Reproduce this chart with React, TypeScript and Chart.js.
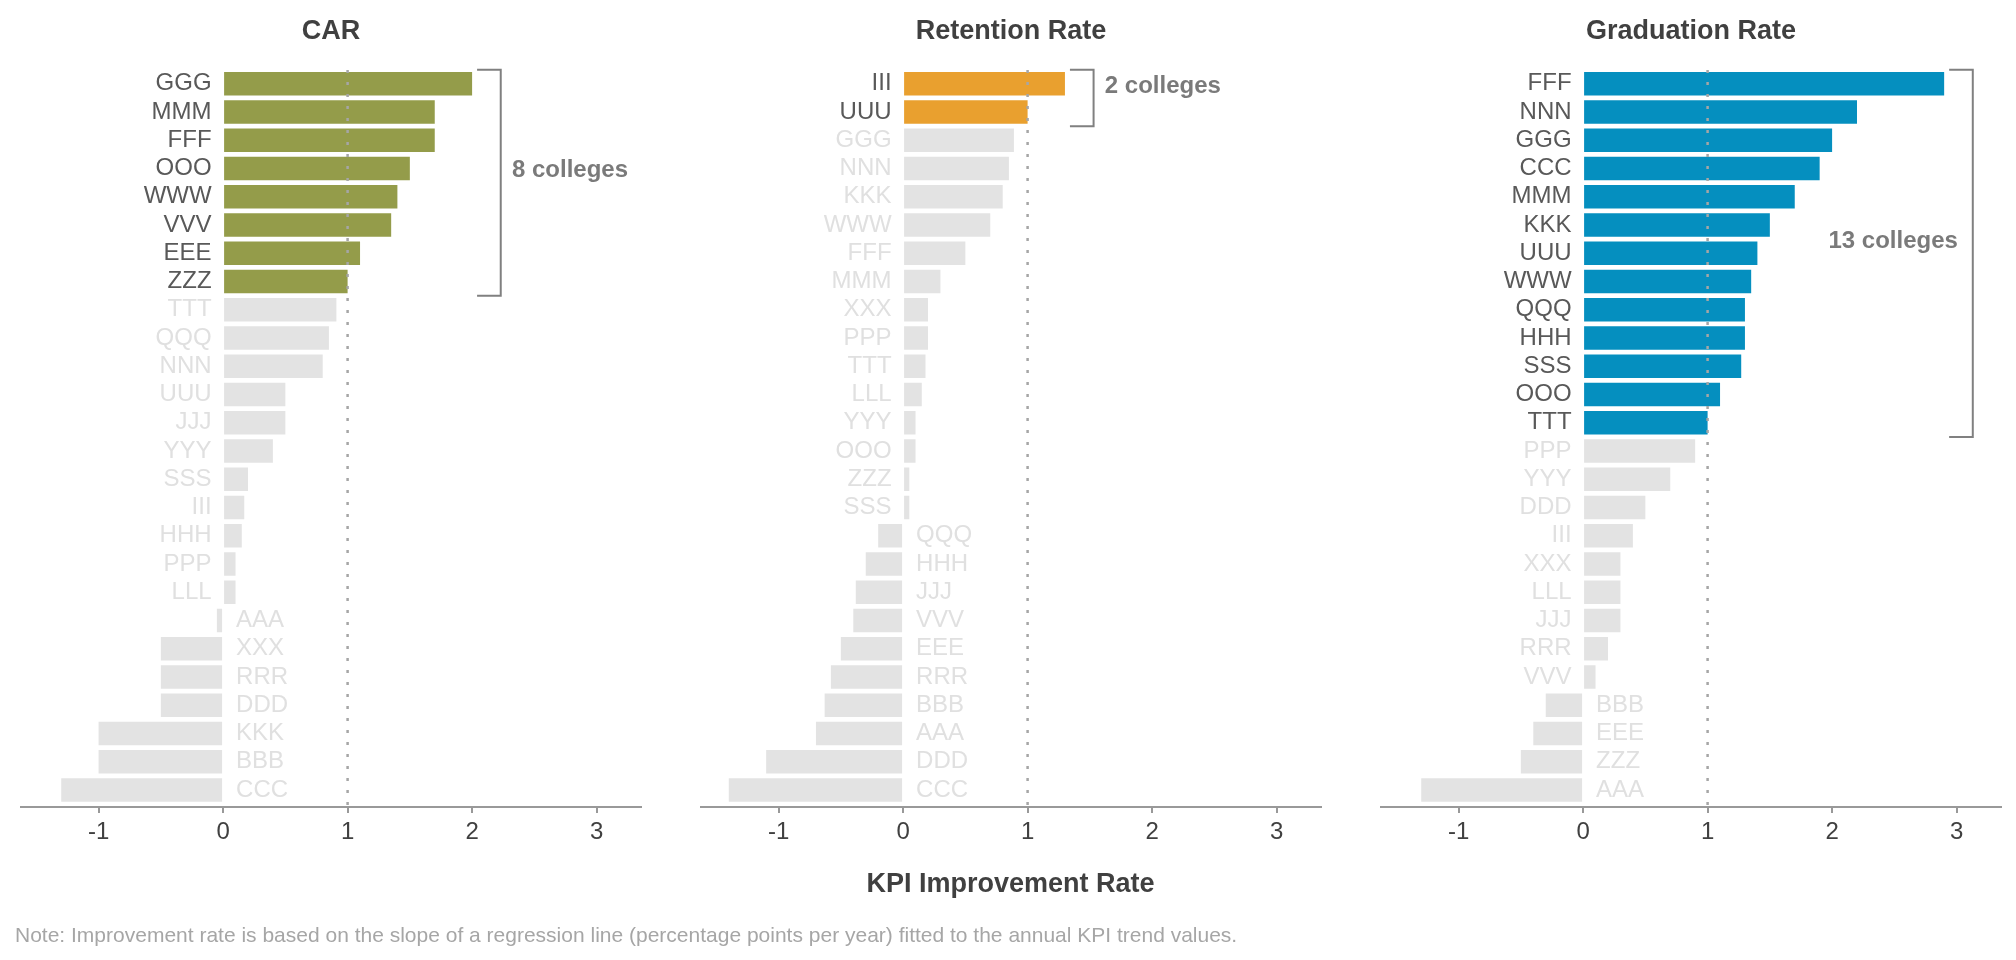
import { useEffect, useRef } from "react";
import { Chart, registerables } from "chart.js";

Chart.register(...registerables);

// ---------------- data ----------------
const carColleges = ["GGG", "MMM", "FFF", "OOO", "WWW", "VVV", "EEE", "ZZZ", "TTT", "QQQ", "NNN", "UUU", "JJJ", "YYY", "SSS", "III", "HHH", "PPP", "LLL", "AAA", "XXX", "RRR", "DDD", "KKK", "BBB", "CCC"];
const carValues = [2.0, 1.7, 1.7, 1.5, 1.4, 1.35, 1.1, 1.0, 0.91, 0.85, 0.8, 0.5, 0.5, 0.4, 0.2, 0.17, 0.15, 0.1, 0.1, -0.05, -0.5, -0.5, -0.5, -1.0, -1.0, -1.3];

const retColleges = ["III", "UUU", "GGG", "NNN", "KKK", "WWW", "FFF", "MMM", "XXX", "PPP", "TTT", "LLL", "YYY", "OOO", "ZZZ", "SSS", "QQQ", "HHH", "JJJ", "VVV", "EEE", "RRR", "BBB", "AAA", "DDD", "CCC"];
const retValues = [1.3, 1.0, 0.89, 0.85, 0.8, 0.7, 0.5, 0.3, 0.2, 0.2, 0.18, 0.15, 0.1, 0.1, 0.05, 0.05, -0.2, -0.3, -0.38, -0.4, -0.5, -0.58, -0.63, -0.7, -1.1, -1.4];

const gradColleges = ["FFF", "NNN", "GGG", "CCC", "MMM", "KKK", "UUU", "WWW", "QQQ", "HHH", "SSS", "OOO", "TTT", "PPP", "YYY", "DDD", "III", "XXX", "LLL", "JJJ", "RRR", "VVV", "BBB", "EEE", "ZZZ", "AAA"];
const gradValues = [2.9, 2.2, 2.0, 1.9, 1.7, 1.5, 1.4, 1.35, 1.3, 1.3, 1.27, 1.1, 1.0, 0.9, 0.7, 0.5, 0.4, 0.3, 0.3, 0.3, 0.2, 0.1, -0.3, -0.4, -0.5, -1.3];

const panelTitles = ["CAR", "Retention Rate", "Graduation Rate"];
const highlightCounts = [8, 2, 13];
const bracketLabels = ["8 colleges", "2 colleges", "13 colleges"];
const bracketLabelSides = ["right", "right", "left"];
const xTicks = [-1, 0, 1, 2, 3];
const referenceValue = 1;
const axisTitle = "KPI Improvement Rate";
const noteText =
  "Note: Improvement rate is based on the slope of a regression line (percentage points per year) fitted to the annual KPI trend values.";

// ---------------- styling ----------------
const PANEL_COLORS = ["#949c4a", "#e9a02f", "#058fbf"];
const GRAY_BAR = "#e3e3e3";
const GRAY_LABEL = "#e0e0e0";
const DARK_LABEL = "#595959";
const FONT = '"Liberation Sans", Arial, sans-serif';
const X_MIN = -1.62;
const X_MAX = 3.355;
const CANVAS_W = 656;
const CANVAS_H = 960;
const PLOT_LEFT = 21.4;
const PLOT_W = 619.4;
const PLOT_TOP = 66.85;
const PLOT_BOTTOM = 807;

type PanelProps = {
  colleges: string[];
  values: number[];
  highlight: number;
  color: string;
  title: string;
  label: string;
  labelSide: string;
};

function Panel({ colleges, values, highlight, color, title, label, labelSide }: PanelProps) {
  const ref = useRef<HTMLCanvasElement>(null);

  useEffect(() => {
    const canvas = ref.current;
    if (!canvas) return;

    const overlay = {
      id: "overlay",
      afterDatasetsDraw(chart: any) {
        const ctx = chart.ctx as CanvasRenderingContext2D;
        const xs = chart.scales.x;
        const ys = chart.scales.y;
        const area = chart.chartArea;
        ctx.save();

        // dotted reference line
        const rx = xs.getPixelForValue(referenceValue);
        ctx.strokeStyle = "#a6a6a6";
        ctx.lineWidth = 2.5;
        ctx.setLineDash([3, 9]);
        ctx.beginPath();
        ctx.moveTo(rx, area.bottom - 2);
        ctx.lineTo(rx, area.top);
        ctx.stroke();
        ctx.setLineDash([]);

        // category labels
        const x0 = xs.getPixelForValue(0);
        ctx.font = `24px ${FONT}`;
        ctx.textBaseline = "middle";
        colleges.forEach((name, i) => {
          const y = ys.getPixelForValue(i);
          const v = values[i];
          ctx.fillStyle = i < highlight ? DARK_LABEL : GRAY_LABEL;
          if (v >= 0) {
            ctx.textAlign = "right";
            ctx.fillText(name, x0 - 11.5, y);
          } else {
            ctx.textAlign = "left";
            ctx.fillText(name, x0 + 13, y);
          }
        });

        // bracket
        let maxHi = -Infinity;
        for (let i = 0; i < highlight; i++) maxHi = Math.max(maxHi, values[i]);
        const bx = xs.getPixelForValue(maxHi + 0.23);
        const bArm = xs.getPixelForValue(maxHi + 0.23 - 0.19);
        const bTop = ys.getPixelForValue(-0.5);
        const bBot = ys.getPixelForValue(highlight - 0.5);
        ctx.strokeStyle = "#808080";
        ctx.lineWidth = 2;
        ctx.beginPath();
        ctx.moveTo(bArm, bTop);
        ctx.lineTo(bx, bTop);
        ctx.lineTo(bx, bBot);
        ctx.lineTo(bArm, bBot);
        ctx.stroke();

        // bracket label
        const midY = ys.getPixelForValue((highlight - 1) / 2) - 12;
        ctx.font = `bold 24px ${FONT}`;
        ctx.fillStyle = "#7a7a7a";
        ctx.textBaseline = "middle";
        if (labelSide === "right") {
          ctx.textAlign = "left";
          ctx.fillText(label, xs.getPixelForValue(maxHi + 0.32), midY);
        } else {
          ctx.textAlign = "right";
          ctx.fillText(label, xs.getPixelForValue(maxHi + 0.11), midY);
        }

        // panel title
        ctx.font = `bold 27px ${FONT}`;
        ctx.fillStyle = "#404040";
        ctx.textAlign = "center";
        ctx.textBaseline = "alphabetic";
        ctx.fillText(title, (area.left + area.right) / 2, 39);

        ctx.restore();
      },
    };

    const chart = new Chart(canvas, {
      type: "bar",
      data: {
        datasets: [
          {
            data: values.map((v, i) => ({ x: v, y: i })),
            backgroundColor: values.map((_, i) => (i < highlight ? color : GRAY_BAR)),
            borderWidth: 0,
            barPercentage: 0.83,
            categoryPercentage: 1,
          },
        ],
      },
      options: {
        indexAxis: "y",
        animation: false,
        responsive: false,
        devicePixelRatio: 1,
        layout: {
          padding: {
            left: PLOT_LEFT,
            right: CANVAS_W - PLOT_LEFT - PLOT_W,
            top: PLOT_TOP,
            bottom: 0,
          },
        },
        plugins: {
          legend: { display: false },
          tooltip: { enabled: false },
          title: { display: false },
        },
        scales: {
          x: {
            type: "linear",
            min: X_MIN,
            max: X_MAX,
            afterBuildTicks: (axis: any) => {
              axis.ticks = xTicks.map((v) => ({ value: v }));
            },
            afterFit: (axis: any) => {
              axis.height = CANVAS_H - PLOT_BOTTOM;
            },
            grid: {
              drawOnChartArea: false,
              drawTicks: true,
              tickLength: 6,
              color: "#999999",
              lineWidth: 2,
            },
            border: { display: true, color: "#999999", width: 2 },
            ticks: {
              color: "#404040",
              font: { family: FONT, size: 24, lineHeight: 1.2 },
              padding: 5,
              callback: (v: any) => String(v),
            },
          },
          y: {
            type: "linear",
            reverse: true,
            min: -0.6,
            max: colleges.length - 0.4,
            offset: false,
            display: false,
            afterBuildTicks: (axis: any) => {
              axis.ticks = colleges.map((_, i) => ({ value: i }));
            },
          },
        },
      },
      plugins: [overlay],
    } as any);

    return () => chart.destroy();
  }, [colleges, values, highlight, color, title, label, labelSide]);

  return <canvas ref={ref} width={CANVAS_W} height={CANVAS_H} style={{ width: CANVAS_W, height: CANVAS_H, display: "block" }} />;
}

export default function App() {
  const panels = [
    { colleges: carColleges, values: carValues },
    { colleges: retColleges, values: retValues },
    { colleges: gradColleges, values: gradValues },
  ];
  return (
    <div
      style={{
        position: "absolute",
        left: 0,
        top: 0,
        width: 2016,
        height: 960,
        overflow: "hidden",
        background: "#ffffff",
        fontFamily: FONT,
      }}
    >
      {panels.map((p, i) => (
        <div key={i} style={{ position: "absolute", left: 680 * i, top: 0 }}>
          <Panel
            colleges={p.colleges}
            values={p.values}
            highlight={highlightCounts[i]}
            color={PANEL_COLORS[i]}
            title={panelTitles[i]}
            label={bracketLabels[i]}
            labelSide={bracketLabelSides[i]}
          />
        </div>
      ))}
      <div
        style={{
          position: "absolute",
          left: 0,
          width: 2021,
          top: 870.4,
          textAlign: "center",
          fontSize: 27,
          lineHeight: "27px",
          fontWeight: "bold",
          color: "#404040",
          whiteSpace: "nowrap",
        }}
      >
        {axisTitle}
      </div>
      <div
        style={{
          position: "absolute",
          left: 15,
          top: 923.9,
          fontSize: 21,
          lineHeight: "21px",
          color: "#a6a6a6",
          whiteSpace: "nowrap",
        }}
      >
        {noteText}
      </div>
    </div>
  );
}
